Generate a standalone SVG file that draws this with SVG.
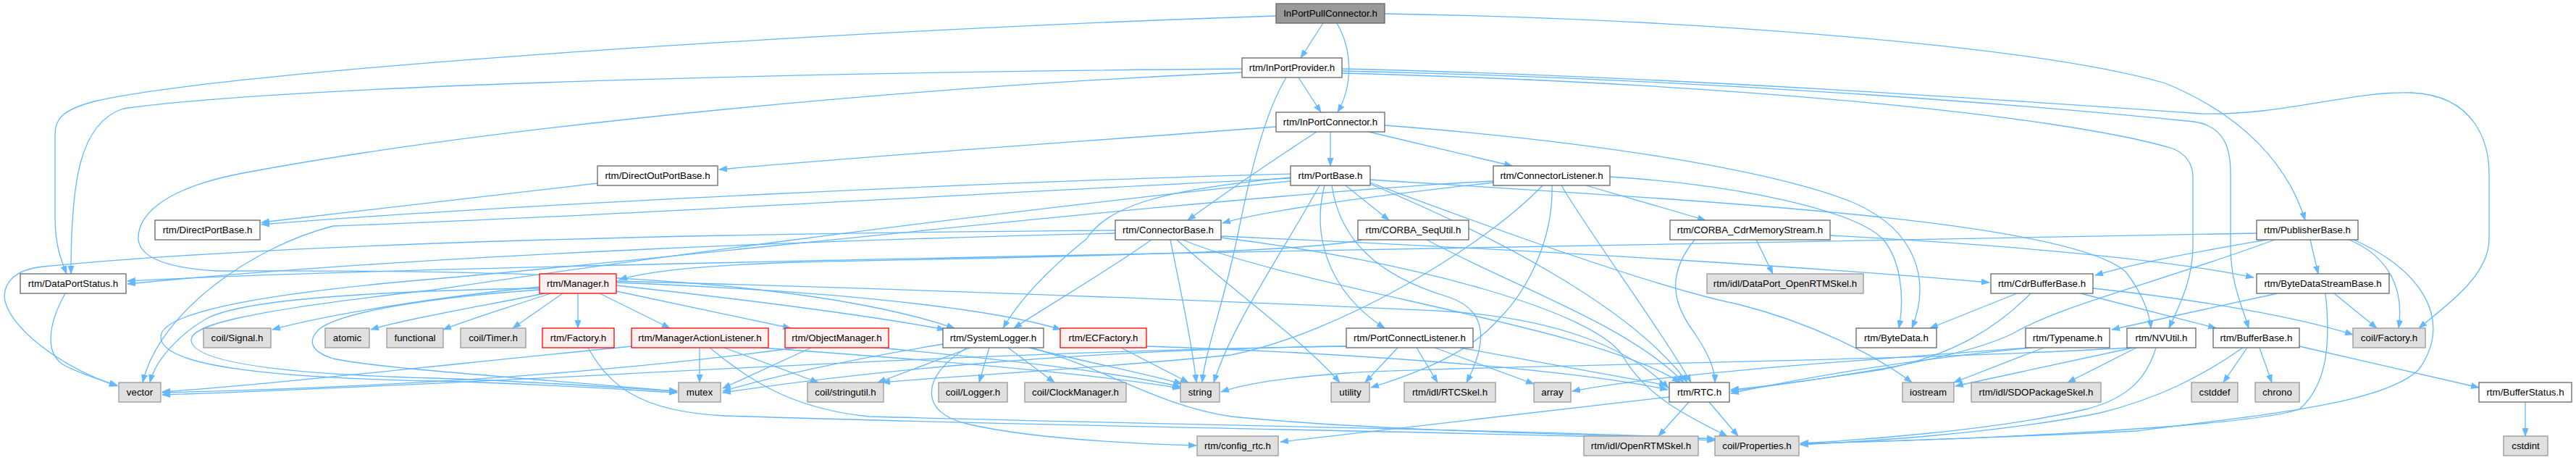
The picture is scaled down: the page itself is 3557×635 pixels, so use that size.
<svg xmlns="http://www.w3.org/2000/svg" width="3557" height="635" viewBox="0 0 3557 635">
<defs>
<style>
.node rect{stroke-width:1.3}
.w rect{fill:#ffffff;stroke:#666666}
.g rect{fill:#e0e0e0;stroke:#999999}
.r rect{fill:#fff0f0;stroke:#ff0000}
.t rect{fill:#999999;stroke:#666666}
.node text{font-family:"Liberation Sans",Arial,Helvetica,sans-serif;font-size:13.33px;text-anchor:middle;fill:#000000}
#edges path{fill:none;stroke:#63b8ff;stroke-width:1.3;marker-end:url(#arrow)}
</style>
<marker id="arrow" viewBox="0 0 12 9" refX="11" refY="4.5" markerWidth="12" markerHeight="9" orient="auto" markerUnits="userSpaceOnUse"><path d="M0,0 L12,4.5 L0,9 Z" fill="#63b8ff"/></marker>
</defs>
<rect x="0" y="0" width="3557" height="635" fill="#ffffff"/>
<g id="edges">
<path d="M1827,32 L1796,80"/>
<path d="M1846,32 C1868,70 1868,118 1847,155"/>
<path d="M1762,22 C1200,40 320,95 130,140 C85,152 76,165 76,185 L76,300 C76,340 85,360 92,378"/>
<path d="M1912,19 C2300,25 2800,60 2990,115 C3100,160 3160,230 3183,304"/>
<path d="M1793,107 L1824,155"/>
<path d="M1715,95 C1100,100 400,118 170,150 C110,170 98,250 98,378"/>
<path d="M1715,100 C1300,118 700,170 330,240 C220,262 190,300 191,330 C193,355 230,370 300,374 C700,372 1100,380 1318,453"/>
<path d="M1776,107 C1750,150 1730,220 1710,320 C1690,420 1665,480 1660,528"/>
<path d="M1853,101 C2400,115 2850,160 3000,205 C3022,214 3028,230 3028,245 L3028,340 C3028,390 3005,430 2995,453"/>
<path d="M1853,98 C2400,110 2850,150 3030,168 C3075,175 3080,210 3080,240 L3080,340 C3080,390 3095,420 3105,453"/>
<path d="M1853,95 C2300,105 2800,140 3040,157 C3150,160 3250,125 3330,128 C3420,132 3437,200 3437,240 L3437,330 C3437,380 3380,420 3340,453"/>
<path d="M1762,175 C1500,195 1200,215 993,234"/>
<path d="M1837,182 L1837,229"/>
<path d="M1890,182 L2088,229"/>
<path d="M1818,182 C1760,220 1700,260 1640,304"/>
<path d="M1912,173 C2200,195 2450,235 2560,280 C2650,320 2665,390 2640,453"/>
<path d="M825,253 C650,272 480,292 361,307"/>
<path d="M1782,240 C1400,250 700,282 361,310"/>
<path d="M1858,256 L1918,304"/>
<path d="M1829,256 C1812,320 1830,400 1912,453"/>
<path d="M1839,256 C1850,330 1900,380 2000,410 C2060,430 2050,480 2025,528"/>
<path d="M1892,254 C2050,320 2250,420 2330,528"/>
<path d="M1892,248 C2300,275 2850,300 2935,375 C2955,400 2968,430 2970,453"/>
<path d="M1892,252 C2100,330 2300,400 2400,420 C2500,445 2590,490 2640,528"/>
<path d="M1782,245 C1600,262 1530,285 1500,330 C1450,370 1410,410 1385,453"/>
<path d="M1822,256 C1770,350 1700,450 1676,528"/>
<path d="M1782,246 C1300,270 800,300 460,312 C350,340 220,430 197,528"/>
<path d="M1782,250 C1300,300 800,370 600,400 C330,430 262,450 264,470 C266,492 330,515 600,522 C750,527 860,536 935,540"/>
<path d="M2062,252 C1900,270 1750,290 1688,308"/>
<path d="M2190,256 L2355,304"/>
<path d="M2223,244 C2400,255 2560,290 2600,330 C2625,360 2630,410 2622,453"/>
<path d="M2156,256 C2200,330 2290,450 2335,528"/>
<path d="M2143,256 C2145,330 2110,400 2070,440 C2040,475 1990,505 1893,535"/>
<path d="M2130,256 C2050,340 1850,460 1700,490 C1500,510 1300,520 1218,528"/>
<path d="M2062,250 C1700,268 900,360 600,385 C300,410 222,440 222,465 C222,495 300,520 600,526 C760,530 860,538 935,542"/>
<path d="M1540,322 C1200,330 600,350 176,392"/>
<path d="M1540,318 C1000,322 400,335 60,368 C20,372 6,390 6,410 C10,450 80,505 162,533"/>
<path d="M1590,331 C1520,380 1450,420 1400,453"/>
<path d="M1616,331 C1630,400 1645,470 1652,528"/>
<path d="M1625,331 C1700,400 1800,470 1850,528"/>
<path d="M1633,331 C1800,400 2200,450 2320,528"/>
<path d="M1686,326 C2000,340 2400,360 2747,390"/>
<path d="M1686,328 C1950,360 2200,430 2240,490 C2270,545 2330,575 2385,602"/>
<path d="M1880,331 C1800,350 1400,355 1100,362 C950,367 890,376 855,386"/>
<path d="M1970,331 C2100,400 2250,450 2325,528"/>
<path d="M2425,331 L2448,378"/>
<path d="M2340,331 C2300,380 2310,420 2340,460 C2360,490 2368,510 2368,528"/>
<path d="M2527,325 C2800,340 3000,360 3112,383"/>
<path d="M3116,322 C2800,330 2200,340 1600,350 C1000,362 400,375 176,388"/>
<path d="M3130,331 C3050,345 2960,360 2893,380"/>
<path d="M3141,331 C2980,390 2850,420 2780,460 C2700,500 2500,525 2390,540"/>
<path d="M3190,331 L3201,378"/>
<path d="M3244,331 C3300,355 3320,400 3312,453"/>
<path d="M3250,331 C3340,370 3390,440 3340,510 C3290,560 3100,575 2950,595 C2750,605 2550,610 2486,613"/>
<path d="M90,405 C65,450 62,490 90,505 C110,515 130,522 162,532"/>
<path d="M745,396 C600,410 450,435 376,455"/>
<path d="M752,405 C680,420 560,440 512,455"/>
<path d="M760,405 C700,425 650,440 612,455"/>
<path d="M777,405 L708,453"/>
<path d="M798,405 L798,453"/>
<path d="M828,405 L925,453"/>
<path d="M851,402 L1092,453"/>
<path d="M851,394 C1000,410 1200,435 1305,455"/>
<path d="M851,390 C1100,400 1350,420 1465,455"/>
<path d="M745,398 C500,402 330,415 285,440 C250,460 215,495 207,528"/>
<path d="M745,400 C600,410 470,430 440,455 C425,470 428,485 460,495 C520,508 700,520 935,540"/>
<path d="M851,388 C1300,400 1800,420 2000,430 C2150,440 2250,480 2304,536"/>
<path d="M812,480 C840,530 880,568 1000,574 C1500,590 2100,597 2368,608"/>
<path d="M966,480 L966,528"/>
<path d="M1000,480 L1130,528"/>
<path d="M872,478 C600,505 400,528 224,541"/>
<path d="M980,480 C1040,530 1100,565 1200,575 C1700,588 2200,596 2368,606"/>
<path d="M1050,480 C1300,498 1500,515 1630,536"/>
<path d="M1120,480 L998,536"/>
<path d="M1215,480 C1400,498 1550,515 1630,534"/>
<path d="M1100,480 C800,520 500,535 224,542"/>
<path d="M1366,480 L1352,528"/>
<path d="M1392,480 L1456,528"/>
<path d="M1421,480 C1500,500 1580,515 1632,530"/>
<path d="M1340,480 L1212,528"/>
<path d="M1335,480 C1270,520 1270,570 1335,585 C1420,605 1550,612 1652,615"/>
<path d="M1425,480 C1530,510 1600,560 1700,575 C1900,595 2200,600 2368,606"/>
<path d="M1302,475 C1150,500 1050,525 998,540"/>
<path d="M1548,480 L1641,528"/>
<path d="M1583,478 C1800,485 2150,505 2303,538"/>
<path d="M1930,480 L1885,528"/>
<path d="M1956,480 L1985,528"/>
<path d="M1981,480 L2118,530"/>
<path d="M2016,480 L2302,532"/>
<path d="M1862,478 C1500,482 1200,512 998,542"/>
<path d="M1862,478 C1300,485 700,530 224,545"/>
<path d="M2822,480 L2698,528"/>
<path d="M2800,480 C2600,495 2300,515 2171,540"/>
<path d="M2805,480 C2600,500 2450,530 2390,543"/>
<path d="M2945,480 L2700,533"/>
<path d="M2950,480 L2855,528"/>
<path d="M2977,480 C2965,520 2940,550 2880,565 C2750,595 2560,608 2486,612"/>
<path d="M2940,480 C2600,500 2000,505 1860,515 C1760,522 1710,533 1686,541"/>
<path d="M3103,480 L3070,528"/>
<path d="M3120,480 L3137,528"/>
<path d="M3175,478 L3423,535"/>
<path d="M3097,480 C3040,520 2980,550 2900,570 C2750,600 2560,610 2486,614"/>
<path d="M2785,405 L2665,453"/>
<path d="M2804,405 C2760,450 2700,490 2600,510 C2500,525 2420,535 2390,538"/>
<path d="M2873,405 L3060,453"/>
<path d="M2890,398 C3050,415 3180,440 3249,462"/>
<path d="M3145,405 L2916,455"/>
<path d="M3223,405 L3282,453"/>
<path d="M3211,405 C3218,470 3215,530 3175,565 C3100,590 2700,608 2486,612"/>
<path d="M2305,548 L1768,610"/>
<path d="M2332,555 L2290,602"/>
<path d="M2360,555 L2400,602"/>
<path d="M3487,555 L3487,602"/>
</g>
<g id="n-InPortPullConnector" class="node t"><rect x="1762" y="5" width="150" height="27"/><text x="1837" y="23">InPortPullConnector.h</text></g>
<g id="n-InPortProvider" class="node w"><rect x="1715" y="80" width="138" height="27"/><text x="1784" y="98">rtm/InPortProvider.h</text></g>
<g id="n-InPortConnector" class="node w"><rect x="1762" y="155" width="150" height="27"/><text x="1837" y="173">rtm/InPortConnector.h</text></g>
<g id="n-DirectOutPortBase" class="node w"><rect x="825" y="229" width="166" height="27"/><text x="908" y="247">rtm/DirectOutPortBase.h</text></g>
<g id="n-PortBase" class="node w"><rect x="1782" y="229" width="110" height="27"/><text x="1837" y="247">rtm/PortBase.h</text></g>
<g id="n-ConnectorListener" class="node w"><rect x="2062" y="229" width="161" height="27"/><text x="2142.5" y="247">rtm/ConnectorListener.h</text></g>
<g id="n-DirectPortBase" class="node w"><rect x="214" y="304" width="145" height="27"/><text x="286.5" y="322">rtm/DirectPortBase.h</text></g>
<g id="n-ConnectorBase" class="node w"><rect x="1540" y="304" width="146" height="27"/><text x="1613" y="322">rtm/ConnectorBase.h</text></g>
<g id="n-CORBA_SeqUtil" class="node w"><rect x="1875" y="304" width="153" height="27"/><text x="1951.5" y="322">rtm/CORBA_SeqUtil.h</text></g>
<g id="n-CORBA_CdrMemoryStream" class="node w"><rect x="2306" y="304" width="221" height="27"/><text x="2416.5" y="322">rtm/CORBA_CdrMemoryStream.h</text></g>
<g id="n-PublisherBase" class="node w"><rect x="3116" y="304" width="140" height="27"/><text x="3186" y="322">rtm/PublisherBase.h</text></g>
<g id="n-DataPortStatus" class="node w"><rect x="28" y="378" width="146" height="27"/><text x="101" y="396">rtm/DataPortStatus.h</text></g>
<g id="n-Manager" class="node r"><rect x="745" y="378" width="106" height="27"/><text x="798" y="396">rtm/Manager.h</text></g>
<g id="n-DataPort_OpenRTMSkel" class="node g"><rect x="2357" y="378" width="216" height="27"/><text x="2465" y="396">rtm/idl/DataPort_OpenRTMSkel.h</text></g>
<g id="n-CdrBufferBase" class="node w"><rect x="2749" y="378" width="141" height="27"/><text x="2819.5" y="396">rtm/CdrBufferBase.h</text></g>
<g id="n-ByteDataStreamBase" class="node w"><rect x="3116" y="378" width="183" height="27"/><text x="3207.5" y="396">rtm/ByteDataStreamBase.h</text></g>
<g id="n-coilSignal" class="node g"><rect x="281" y="453" width="93" height="27"/><text x="327.5" y="471">coil/Signal.h</text></g>
<g id="n-atomic" class="node g"><rect x="449" y="453" width="61" height="27"/><text x="479.5" y="471">atomic</text></g>
<g id="n-functional" class="node g"><rect x="534" y="453" width="78" height="27"/><text x="573" y="471">functional</text></g>
<g id="n-coilTimer" class="node g"><rect x="636" y="453" width="90" height="27"/><text x="681" y="471">coil/Timer.h</text></g>
<g id="n-Factory" class="node r"><rect x="749" y="453" width="99" height="27"/><text x="798.5" y="471">rtm/Factory.h</text></g>
<g id="n-ManagerActionListener" class="node r"><rect x="872" y="453" width="189" height="27"/><text x="966.5" y="471">rtm/ManagerActionListener.h</text></g>
<g id="n-ObjectManager" class="node r"><rect x="1084" y="453" width="143" height="27"/><text x="1155.5" y="471">rtm/ObjectManager.h</text></g>
<g id="n-SystemLogger" class="node w"><rect x="1302" y="453" width="139" height="27"/><text x="1371.5" y="471">rtm/SystemLogger.h</text></g>
<g id="n-ECFactory" class="node r"><rect x="1464" y="453" width="119" height="27"/><text x="1523.5" y="471">rtm/ECFactory.h</text></g>
<g id="n-PortConnectListener" class="node w"><rect x="1859" y="453" width="175" height="27"/><text x="1946.5" y="471">rtm/PortConnectListener.h</text></g>
<g id="n-ByteData" class="node w"><rect x="2563" y="453" width="111" height="27"/><text x="2618.5" y="471">rtm/ByteData.h</text></g>
<g id="n-Typename" class="node w"><rect x="2797" y="453" width="116" height="27"/><text x="2855" y="471">rtm/Typename.h</text></g>
<g id="n-NVUtil" class="node w"><rect x="2937" y="453" width="95" height="27"/><text x="2984.5" y="471">rtm/NVUtil.h</text></g>
<g id="n-BufferBase" class="node w"><rect x="3056" y="453" width="119" height="27"/><text x="3115.5" y="471">rtm/BufferBase.h</text></g>
<g id="n-coilFactory" class="node g"><rect x="3249" y="453" width="100" height="27"/><text x="3299" y="471">coil/Factory.h</text></g>
<g id="n-vector" class="node g"><rect x="164" y="528" width="58" height="27"/><text x="193" y="546">vector</text></g>
<g id="n-mutex" class="node g"><rect x="937" y="528" width="58" height="27"/><text x="966" y="546">mutex</text></g>
<g id="n-coilstringutil" class="node g"><rect x="1115" y="528" width="105" height="27"/><text x="1167.5" y="546">coil/stringutil.h</text></g>
<g id="n-coilLogger" class="node g"><rect x="1296" y="528" width="95" height="27"/><text x="1343.5" y="546">coil/Logger.h</text></g>
<g id="n-coilClockManager" class="node g"><rect x="1415" y="528" width="140" height="27"/><text x="1485" y="546">coil/ClockManager.h</text></g>
<g id="n-string" class="node g"><rect x="1630" y="528" width="54" height="27"/><text x="1657" y="546">string</text></g>
<g id="n-utility" class="node g"><rect x="1838" y="528" width="53" height="27"/><text x="1864.5" y="546">utility</text></g>
<g id="n-RTCSkel" class="node g"><rect x="1939" y="528" width="126" height="27"/><text x="2002" y="546">rtm/idl/RTCSkel.h</text></g>
<g id="n-array" class="node g"><rect x="2118" y="528" width="51" height="27"/><text x="2143.5" y="546">array</text></g>
<g id="n-RTC" class="node w"><rect x="2305" y="528" width="83" height="27"/><text x="2346.5" y="546">rtm/RTC.h</text></g>
<g id="n-iostream" class="node g"><rect x="2627" y="528" width="71" height="27"/><text x="2662.5" y="546">iostream</text></g>
<g id="n-SDOPackageSkel" class="node g"><rect x="2722" y="528" width="179" height="27"/><text x="2811.5" y="546">rtm/idl/SDOPackageSkel.h</text></g>
<g id="n-cstddef" class="node g"><rect x="3026" y="528" width="64" height="27"/><text x="3058" y="546">cstddef</text></g>
<g id="n-chrono" class="node g"><rect x="3114" y="528" width="61" height="27"/><text x="3144.5" y="546">chrono</text></g>
<g id="n-BufferStatus" class="node w"><rect x="3423" y="528" width="128" height="27"/><text x="3487" y="546">rtm/BufferStatus.h</text></g>
<g id="n-config_rtc" class="node g"><rect x="1653" y="602" width="112" height="27"/><text x="1709" y="620">rtm/config_rtc.h</text></g>
<g id="n-OpenRTMSkel" class="node g"><rect x="2187" y="602" width="158" height="27"/><text x="2266" y="620">rtm/idl/OpenRTMSkel.h</text></g>
<g id="n-coilProperties" class="node g"><rect x="2368" y="602" width="116" height="27"/><text x="2426" y="620">coil/Properties.h</text></g>
<g id="n-cstdint" class="node g"><rect x="3457" y="602" width="61" height="27"/><text x="3487.5" y="620">cstdint</text></g>
</svg>
